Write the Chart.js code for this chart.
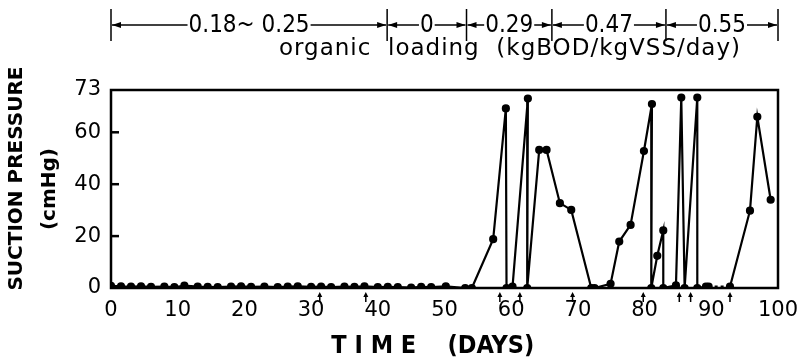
<!DOCTYPE html>
<html>
<head>
<meta charset="utf-8">
<script src="https://cdn.jsdelivr.net/npm/chart.js@4.4.1/dist/chart.umd.min.js"></script>
<style>
  html, body { margin: 0; padding: 0; background: #fff; }
</style>
</head>
<body>
<canvas id="suctionChart" width="797" height="362"></canvas>
<script>
// suction pressure readings (day, cmHg)
const days = [0, 1.5, 3, 4.5, 6, 8, 9.5, 11, 13, 14.5, 16, 18, 19.5, 21, 23, 25, 26.5, 28, 30, 31.5,
  33, 35, 36.5, 38, 40, 41.5, 43, 45, 46.5, 48, 50.2, 53.1, 54.1,
  57.3, 59.2, 59.3, 60.2, 62.5, 62.4, 64.2, 65.3, 67.3, 69.0, 72.0, 72.5, 74.9, 76.2, 77.9, 79.9, 81.1,
  81.0, 81.9, 82.8, 82.8, 84.7, 85.5, 86.0, 87.9, 87.9, 89.2, 89.6, 92.8, 95.8, 96.9, 98.9];
const pressure = [0.8, 0.6, 0.5, 0.6, 0.4, 0.5, 0.3, 0.9, 0.5, 0.4, 0.3, 0.5, 0.6, 0.4, 0.5, 0.3, 0.5, 0.6, 0.4, 0.5,
  0.3, 0.5, 0.4, 0.6, 0.3, 0.4, 0.3, 0.2, 0.4, 0.3, 0.6, 0, 0,
  18.8, 69.2, 0, 0.5, 73, 0, 53.2, 53.2, 32.7, 30.1, 0, 0, 1.6, 17.9, 24.3, 52.8, 70.9,
  0, 12.4, 22.2, 0, 1, 73.4, 0, 73.4, 0, 0.5, 0.5, 0.5, 29.8, 66, 34];
const dottedFromDay = 89.6;

// membrane cleaning arrows under the axis
const cleaningDays = [31.3, 38.2, 58.3, 61.3, 69.2, 79.8, 85.2, 86.9, 92.8];

// organic loading periods
const loadingBounds = [0, 41.4, 53.3, 66.1, 83.2, 100];
const loadingLabels = ['0.18~ 0.25', '0', '0.29', '0.47', '0.55'];

const xTicks = [0, 10, 20, 30, 40, 50, 60, 70, 80, 90, 100];
const Y_TOP = 76.3;
const yTickValues = [0, 20, 40, 60, Y_TOP];
const yTickLabels = ['0', '20', '40', '60', '73'];

const COND = "'DejaVu Sans Condensed', 'DejaVu Sans', sans-serif";
const SANS = "'DejaVu Sans', sans-serif";

const points = days.map((d, i) => ({x: d, y: pressure[i]}));

const framePlugin = {
  id: 'frame',
  beforeDatasetsDraw(chart) {
    const {ctx, chartArea: a, scales: {y}} = chart;
    ctx.save();
    ctx.strokeStyle = '#000';
    ctx.lineWidth = 2.5;
    ctx.strokeRect(a.left, a.top, a.right - a.left, a.bottom - a.top);
    yTickValues.slice(1, -1).forEach(v => {
      const py = y.getPixelForValue(v);
      ctx.beginPath();
      ctx.moveTo(a.left, py);
      ctx.lineTo(a.left + 8, py);
      ctx.stroke();
    });
    ctx.restore();
  },
  afterDraw(chart) {
    const {ctx, chartArea: a, scales: {x}} = chart;
    ctx.save();
    ctx.strokeStyle = '#000';
    ctx.fillStyle = '#000';
    // cleaning arrows
    ctx.lineWidth = 1.5;
    cleaningDays.forEach(d => {
      const px = x.getPixelForValue(d);
      ctx.beginPath();
      ctx.moveTo(px, a.bottom + 14);
      ctx.lineTo(px, a.bottom + 6);
      ctx.stroke();
      ctx.beginPath();
      ctx.moveTo(px, a.bottom + 4);
      ctx.lineTo(px - 2.5, a.bottom + 9);
      ctx.lineTo(px + 2.5, a.bottom + 9);
      ctx.closePath();
      ctx.fill();
    });

    // loading periods bracket
    const lineY = 25;
    ctx.lineWidth = 1.5;
    ctx.font = '24px ' + COND;
    ctx.textAlign = 'center';
    ctx.textBaseline = 'middle';
    loadingBounds.forEach(b => {
      const px = x.getPixelForValue(b);
      ctx.beginPath();
      ctx.moveTo(px, 9);
      ctx.lineTo(px, 41);
      ctx.stroke();
    });
    const arrow = (fromX, toX) => {
      const dir = Math.sign(toX - fromX);
      ctx.beginPath();
      ctx.moveTo(fromX, lineY);
      ctx.lineTo(toX, lineY);
      ctx.stroke();
      ctx.beginPath();
      ctx.moveTo(toX, lineY);
      ctx.lineTo(toX - dir * 9, lineY - 3);
      ctx.lineTo(toX - dir * 9, lineY + 3);
      ctx.closePath();
      ctx.fill();
    };
    loadingLabels.forEach((lab, i) => {
      const x0 = x.getPixelForValue(loadingBounds[i]);
      const x1 = x.getPixelForValue(loadingBounds[i + 1]);
      const mid = (x0 + x1) / 2;
      const w = ctx.measureText(lab).width;
      ctx.fillText(lab, mid, lineY + 1);
      arrow(mid - w / 2 - 1, x0 + 1);
      arrow(mid + w / 2 + 1, x1 - 1);
    });
    ctx.font = '23px ' + SANS;
    ctx.letterSpacing = '1px';
    ctx.fillText('organic  loading  (kgBOD/kgVSS/day)', 510, 49);
    ctx.restore();
  }
};

new Chart(document.getElementById('suctionChart'), {
  type: 'line',
  data: {
    datasets: [{
      data: points,
      borderColor: '#000',
      backgroundColor: '#000',
      borderWidth: 2.2,
      pointRadius: 3,
      pointHoverRadius: 3,
      tension: 0,
      segment: {
        borderDash: c => c.p0.parsed.x === dottedFromDay ? [3, 3] : undefined
      }
    }]
  },
  options: {
    responsive: false,
    animation: false,
    events: [],
    layout: {padding: {left: 0, right: 19, top: 90, bottom: 0}},
    plugins: {legend: {display: false}, tooltip: {enabled: false}},
    scales: {
      x: {
        type: 'linear',
        min: 0,
        max: 100,
        afterFit: s => { s.height = 74; s.paddingLeft = 0; s.paddingRight = 0; },
        afterBuildTicks: s => { s.ticks = xTicks.map(v => ({value: v})); },
        grid: {display: false, drawTicks: false},
        border: {display: false},
        ticks: {color: '#000', padding: 10, maxRotation: 0, font: {family: SANS, size: 21}},
        title: {
          display: true,
          text: 'T I M E    (DAYS)   ',
          color: '#000',
          font: {family: COND, size: 25, weight: 'bold'},
          padding: {top: 0, bottom: 1}
        }
      },
      y: {
        min: 0,
        max: Y_TOP,
        afterFit: s => { s.width = 111; s.paddingTop = 0; s.paddingBottom = 0; },
        afterBuildTicks: s => { s.ticks = yTickValues.map(v => ({value: v})); },
        grid: {display: false, drawTicks: false},
        border: {display: false},
        ticks: {
          color: '#000',
          padding: 10,
          font: {family: SANS, size: 21},
          callback: (v, i) => yTickLabels[i]
        },
        title: {
          display: true,
          text: ['   SUCTION PRESSURE', '(cmHg)'],
          color: '#000',
          font: {family: SANS, size: 20, weight: 'bold', lineHeight: 1.65},
          padding: {top: 0, bottom: 0}
        }
      }
    }
  },
  plugins: [framePlugin]
});
</script>
</body>
</html>
